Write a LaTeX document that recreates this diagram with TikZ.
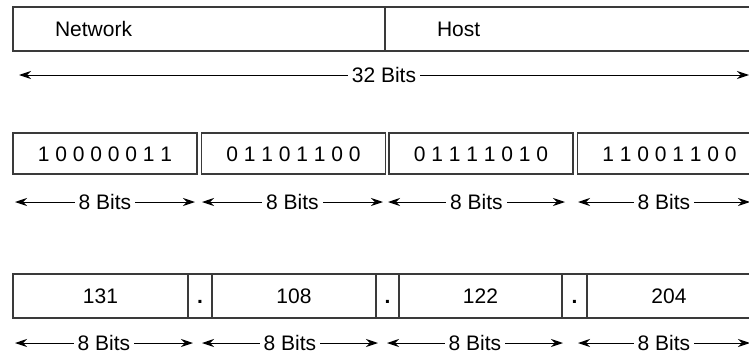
\documentclass[tikz,border=0pt]{standalone}
\usepackage{fontspec}
\setmainfont{Liberation Sans}
\usetikzlibrary{arrows.meta}
\definecolor{Frame}{HTML}{3A3A3A}

\begin{document}
\begin{tikzpicture}[x=1pt,y=-1pt,
  cell/.style={draw=Frame,line width=1.1pt,inner sep=0pt,text height=15pt,text depth=0pt,font=\fontsize{21}{25}\selectfont},
  span/.style={{Stealth[length=12pt,width=8pt]}-{Stealth[length=12pt,width=8pt]},line width=1pt},
  tag/.style={fill=white,inner xsep=4pt,inner ysep=1pt,font=\fontsize{21}{25}\selectfont}
]
\useasboundingbox (0,0) rectangle (749,356);
\clip (0,0) rectangle (749,356);

% address split into network and host part
\node[cell,minimum width=372pt,minimum height=44pt,inner xsep=42pt,text width=288pt,align=left] (net) at (199,29) {Network};
\node[cell,minimum width=415pt,minimum height=44pt,inner xsep=52pt,text width=311pt,align=left] (host) at (592.5,29) {Host};
\coordinate (w0) at (19,75);
\coordinate (w1) at (749,75);
\draw[span] (w0) -- (w1) node[tag,midway] {32 Bits};

% binary octets
\foreach \i/\x/\bits in {1/105/1 0 0 0 0 0 1 1,2/293.5/0 1 1 0 1 1 0 0,3/481/0 1 1 1 1 0 1 0,4/669.5/1 1 0 0 1 1 0 0} {
  \node[cell,minimum width=184pt,minimum height=41pt] (b\i) at (\x,153.5) {\bits};
}
\foreach \i/\l/\r in {1/15/195,2/202/383,3/388/565,4/578/750} {
  \coordinate (bl\i) at (\l,202);
  \coordinate (br\i) at (\r,202);
  \draw[span] (bl\i) -- (br\i) node[tag,midway] {8 Bits};
}

% dotted decimal
\foreach \n/\x/\w/\txt in {n1/100.5/175/131,d1/200/24/\textbf{.},n2/294/164/108,d2/387.5/23/\textbf{.},n3/480.5/163/122,d3/574.5/25/\textbf{.},n4/669/164/204} {
  \node[cell,minimum width=\w pt,minimum height=44pt] (\n) at (\x,296) {\txt};
}
\foreach \i/\l/\r in {1/15/193,2/202/378,3/387/563,4/578/750} {
  \coordinate (dl\i) at (\l,343);
  \coordinate (dr\i) at (\r,343);
  \draw[span] (dl\i) -- (dr\i) node[tag,midway] {8 Bits};
}
\end{tikzpicture}
\end{document}
